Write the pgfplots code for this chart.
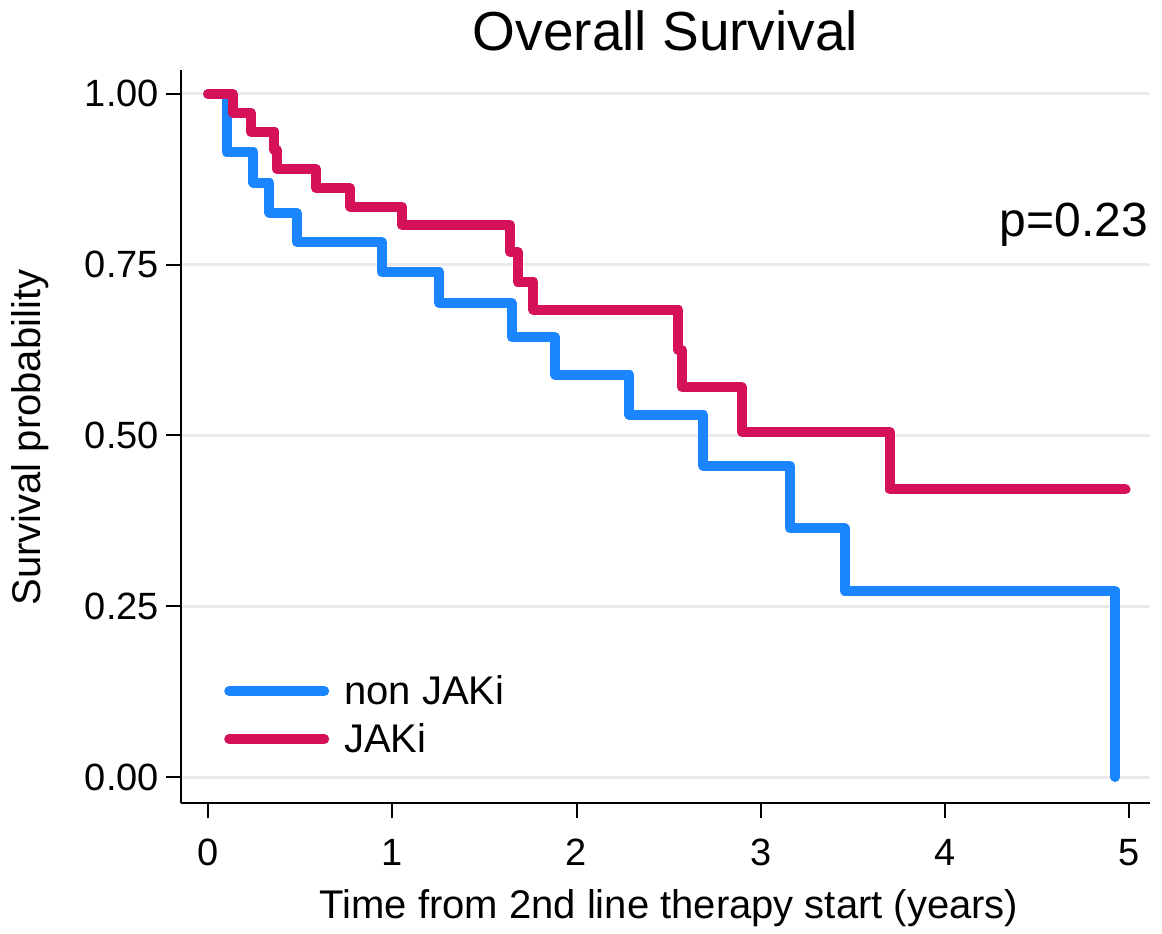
\documentclass[border=0pt]{standalone}
\usepackage{pgfplots}
\pgfplotsset{compat=1.18}
\usepackage{fontspec}
\setmainfont{Liberation Sans}
\definecolor{kmblue}{HTML}{1A85FF}
\definecolor{kmred}{HTML}{D41159}
\definecolor{gridgray}{HTML}{EBEBEB}
\begin{document}
\begin{tikzpicture}
\path[use as bounding box] (-90.5pt,-65pt) rectangle (490.5pt,401.5pt);
\begin{axis}[
  at={(0pt,0pt)}, anchor=south west,
  scale only axis, width=484.5pt, height=366.5pt,
  xmin=-0.147, xmax=5.113, ymin=-0.038, ymax=1.035,
  axis x line*=bottom, axis y line*=left,
  axis line style={line width=1pt, black, -},
  xtick={0,1,2,3,4,5},
  ytick={0,0.25,0.5,0.75,1},
  yticklabels={0.00,0.25,0.50,0.75,1.00},
  tick align=outside, major tick length=7.5pt,
  tick style={line width=1pt, black},
  ymajorgrids, grid style={line width=1.5pt, gridgray},
  /pgf/number format/assume math mode=true,
  ticklabel style={font=\fontsize{19}{22}\selectfont},
  xticklabel style={yshift=-7pt},
  title={Overall Survival},
  title style={font=\fontsize{27.5}{32}\selectfont, at={(axis description cs:0.5,1.037)}, anchor=center},
  xlabel={Time from 2nd line therapy start (years)},
  xlabel style={font=\fontsize{20}{24}\selectfont, at={(axis description cs:0.5036,-0.1432)}, anchor=center},
  ylabel={Survival probability},
  ylabel style={font=\fontsize{20}{24}\selectfont, at={(axis description cs:-0.1558,0.4986)}, anchor=center},
  legend style={draw=none, fill=none, at={(axis description cs:0.038,0.12)}, anchor=west,
    font=\fontsize{20}{24}\selectfont, row sep=4pt},
  legend cell align=left,
  legend image code/.code={\draw[#1, line width=5pt] (0pt,0pt) -- (47.5pt,0pt); \path (53pt,0pt);},
]
\addplot[const plot, kmblue, line width=5pt, line join=round, line cap=round] coordinates {
 (0,1) (0.1,0.915) (0.246,0.870) (0.333,0.826) (0.481,0.783) (0.943,0.739)
 (1.256,0.6935) (1.648,0.644) (1.884,0.5886) (2.287,0.530) (2.689,0.4553)
 (3.16,0.364) (3.455,0.273) (4.924,0.0)
};
\addlegendentry{non JAKi}
\addplot[const plot, kmred, line width=5pt, line join=round, line cap=round] coordinates {
 (0,1) (0.134,0.9726) (0.232,0.9448) (0.36,0.918) (0.373,0.890) (0.586,0.862)
 (0.771,0.835) (1.052,0.808) (1.64,0.769) (1.68,0.725) (1.766,0.684)
 (2.553,0.625) (2.571,0.571) (2.897,0.5056) (3.70,0.421) (4.98,0.421)
};
\addlegendentry{JAKi}
\node[anchor=east, font=\fontsize{24}{28}\selectfont, inner sep=0pt] at (axis cs:5.103,0.808) {p=0.23};
\end{axis}
\end{tikzpicture}
\end{document}
